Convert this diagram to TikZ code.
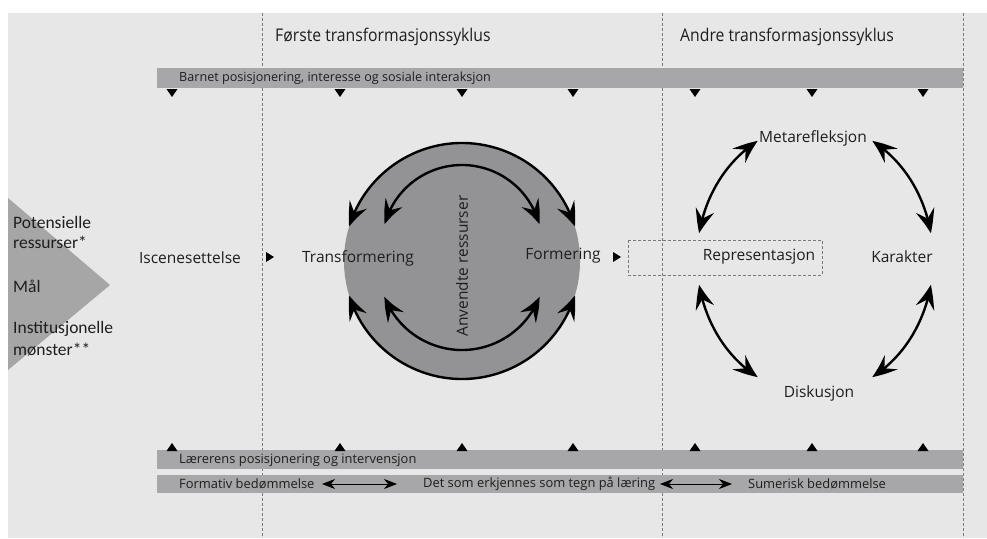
\documentclass[tikz,border=0pt]{standalone}
\usepackage{fontspec}
\setmainfont{Open Sans}
\newfontfamily\calfont{Carlito}
\newfontfamily\headfont[FakeStretch=0.9]{Open Sans}
\usetikzlibrary{arrows.meta,bending,calc}
\definecolor{bgc}{HTML}{E7E7E8}
\definecolor{barc}{HTML}{A7A7A9}
\definecolor{circc}{HTML}{939396}
\definecolor{trc}{HTML}{A6A6A6}
\definecolor{dashc}{HTML}{7A7A7A}
\definecolor{txt}{HTML}{1E1E1E}
\begin{document}
\begin{tikzpicture}[x=1pt,y=-1pt,
  lbl/.style={font=\fontsize{15.5}{17}\selectfont, inner sep=0pt, text=txt},
  bartext/.style={font=\fontsize{12.6}{14}\selectfont, inner sep=0pt, anchor=west, text=txt},
  bartextb/.style={font=\fontsize{12.9}{14}\selectfont, inner sep=0pt, anchor=west, text=txt},
  head/.style={font=\headfont\fontsize{17.5}{19}\selectfont, inner sep=0pt, anchor=west, text=txt},
  side/.style={font=\calfont\fontsize{17.5}{19}\selectfont, inner sep=0pt, anchor=west, text=txt},
  sep/.style={draw=dashc, line width=0.9pt, dash pattern=on 3pt off 2pt},
  bigarrow/.style={line width=2.4pt, {Stealth[length=24pt,width=19pt,inset=9pt,bend]}-{Stealth[length=24pt,width=19pt,inset=9pt,bend]}},
  thinarrow/.style={line width=0.9pt, {Stealth[length=13pt,width=10pt,inset=4pt]}-{Stealth[length=13pt,width=10pt,inset=4pt]}},
  marker/.style={fill=black}
]
\useasboundingbox (0,0) rectangle (987,538);
\fill[white] (0,0) rectangle (987,538);
\fill[bgc] (8,13) rectangle (987,538);

% left triangle
\fill[trc] (8,198) -- (110,285) -- (8,370) -- cycle;
\node[side] (pot) at (13,222) {Potensielle};
\node[side] (res) at (13,242) {ressurser*};
\node[side] (mal) at (13,286) {Mål};
\node[side] (inst) at (13,329) {Institusjonelle};
\node[side] (mon) at (13,350) {mønster**};

% separators
\draw[sep] (262,13) -- (262,538);
\draw[sep] (662,13) -- (662,538);
\draw[sep] (963,13) -- (963,538);

% headings
\node[head] (h1) at (275,37) {Første transformasjonssyklus};
\node[head] (h2) at (680,37) {Andre transformasjonssyklus};

% bars
\fill[barc] (157,68) rectangle (963,88);
\node[bartext] (b1) at (179,78) {Barnet posisjonering, interesse og sosiale interaksjon};
\fill[barc] (157,450) rectangle (963,469);
\node[bartextb] (b2) at (179,460) {Lærerens posisjonering og intervensjon};
\fill[barc] (157,475) rectangle (963,493);
\node[bartextb] (b3) at (179,484) {Formativ bedømmelse};
\node[bartextb] (b4) at (423,484) {Det som erkjennes som tegn på læring};
\node[bartextb] (b5) at (748,484) {Sumerisk bedømmelse};
\coordinate (a1s) at (322,484);
\coordinate (a1e) at (397,484);
\coordinate (a2s) at (660,484);
\coordinate (a2e) at (732,484);
\draw[thinarrow] (a1s) -- (a1e);
\draw[thinarrow] (a2s) -- (a2e);

% markers on bars
\foreach \x in {172,340,462,573,695,812,923}{
  \fill[marker] (\x-5.5,89) -- (\x+5.5,89) -- (\x,97) -- cycle;
  \fill[marker] (\x-5.5,451) -- (\x+5.5,451) -- (\x,443) -- cycle;
}

% first cycle
\coordinate (c) at (462,261);
\fill[circc] (c) circle[radius=118pt];
\node[lbl] (isc) at (190,258) {Iscenesettelse};
\node[lbl] (tra) at (358,258) {Transformering};
\node[lbl] (for) at (563,256) {Formering};
\node[lbl, rotate=90] (anv) at (462,266) {Anvendte ressurser};
\fill[marker] (266,252) -- (274,257) -- (266,262) -- cycle;
\fill[marker] (613,252) -- (621,257) -- (613,262) -- cycle;

\draw[bigarrow] ($(c)+(163:118pt)$) arc[start angle=163, end angle=17, radius=118pt];
\draw[bigarrow] ($(c)+(197:118pt)$) arc[start angle=197, end angle=343, radius=118pt];
\coordinate (ci) at (462,245);
\draw[bigarrow] ($(ci)+(165:80pt)$) arc[start angle=165, end angle=15, radius=80pt];
\coordinate (cj) at (462,267);
\draw[bigarrow] ($(cj)+(201:83pt)$) arc[start angle=201, end angle=339, radius=83pt];

% second cycle
\draw[sep] (628,240) rectangle (822,275);
\node[lbl] (rep) at (759,257) {Representasjon};
\node[lbl] (met) at (813,138) {Metarefleksjon};
\node[lbl] (kar) at (902,257) {Karakter};
\node[lbl] (dis) at (819,393) {Diskusjon};
\coordinate (e) at (815,259);
\draw[bigarrow] ($(e)+(169:118pt and 135pt)$) arc[start angle=169, end angle=119, x radius=118pt, y radius=135pt];
\draw[bigarrow] ($(e)+(61:118pt and 135pt)$) arc[start angle=61, end angle=11, x radius=118pt, y radius=135pt];
\draw[bigarrow] ($(e)+(191:118pt and 135pt)$) arc[start angle=191, end angle=241, x radius=118pt, y radius=135pt];
\draw[bigarrow] ($(e)+(349:118pt and 135pt)$) arc[start angle=349, end angle=299, x radius=118pt, y radius=135pt];
\end{tikzpicture}
\end{document}
